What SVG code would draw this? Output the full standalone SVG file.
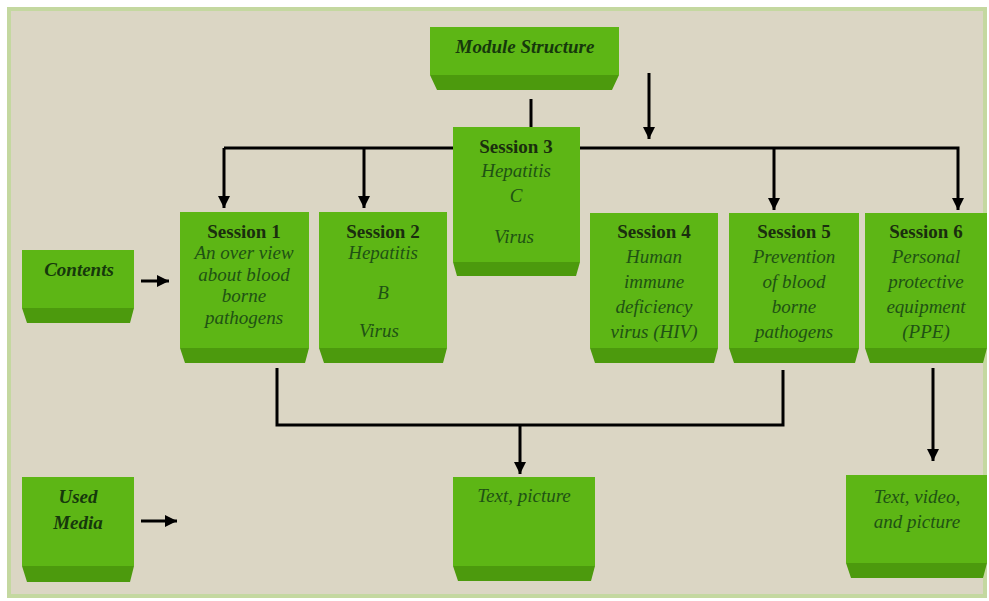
<svg xmlns="http://www.w3.org/2000/svg" width="989" height="601" viewBox="0 0 989 601">
<style>
.face{fill:#5DB615}
.bev{fill:#4C9A0D}
.t{font-family:"Liberation Serif","Times New Roman",serif;font-size:19px;text-anchor:middle}
.b{font-weight:bold;fill:#1A2E0E}
.i{font-style:italic;fill:#1F5214}
.bi{font-weight:bold;font-style:italic;fill:#16380C}
.ln{stroke:#000;stroke-width:3;fill:none}
</style>
<defs>
<marker id="ah" viewBox="0 0 10 10" refX="10" refY="5" markerWidth="4" markerHeight="4" orient="auto" markerUnits="strokeWidth">
<path d="M0,0 L10,5 L0,10 Z" fill="#000"/>
</marker>
</defs>
<rect x="0" y="0" width="989" height="601" fill="#FFFFFF"/>
<rect x="9" y="9" width="976" height="587" fill="#DBD6C4" stroke="#C4D8A0" stroke-width="4"/>

<g id="connectors">
<line class="ln" x1="531" y1="99" x2="531" y2="128"/>
<line class="ln" x1="649" y1="73" x2="649" y2="139" marker-end="url(#ah)"/>
<polyline class="ln" points="224,148 958,148 958,210" marker-end="url(#ah)"/>
<polyline class="ln" points="224,148 224,208" marker-end="url(#ah)"/>
<line class="ln" x1="364" y1="148" x2="364" y2="208" marker-end="url(#ah)"/>
<line class="ln" x1="774" y1="148" x2="774" y2="210" marker-end="url(#ah)"/>
<polyline class="ln" points="277,368 277,425 783,425 783,370"/>
<line class="ln" x1="520" y1="425" x2="520" y2="474" marker-end="url(#ah)"/>
<line class="ln" x1="933" y1="368" x2="933" y2="461" marker-end="url(#ah)"/>
<line class="ln" x1="141" y1="281" x2="169" y2="281" marker-end="url(#ah)"/>
<line class="ln" x1="141" y1="521" x2="177" y2="521" marker-end="url(#ah)"/>
</g>

<g id="module">
<rect class="face" x="430" y="27" width="189" height="48"/>
<polygon class="bev" points="430,75 619,75 612,90 437,90"/>
<text class="t bi" x="525" y="53">Module Structure</text>
</g>

<g id="session3">
<rect class="face" x="453" y="127" width="127" height="135"/>
<polygon class="bev" points="453,262 580,262 576,276 457,276"/>
<text class="t b" x="516" y="153">Session 3</text>
<text class="t i" x="516" y="177">Hepatitis</text>
<text class="t i" x="516" y="202">C</text>
<text class="t i" x="514" y="243">Virus</text>
</g>

<g id="session1">
<rect class="face" x="180" y="212" width="129" height="136"/>
<polygon class="bev" points="180,348 309,348 305,363 185,363"/>
<text class="t b" x="244" y="238">Session 1</text>
<text class="t i" x="244" y="259">An over view</text>
<text class="t i" x="244" y="281">about blood</text>
<text class="t i" x="244" y="302">borne</text>
<text class="t i" x="244" y="324">pathogens</text>
</g>

<g id="session2">
<rect class="face" x="319" y="212" width="128" height="136"/>
<polygon class="bev" points="319,348 447,348 443,363 324,363"/>
<text class="t b" x="383" y="238">Session 2</text>
<text class="t i" x="383" y="259">Hepatitis</text>
<text class="t i" x="383" y="299">B</text>
<text class="t i" x="379" y="337">Virus</text>
</g>

<g id="session4">
<rect class="face" x="590" y="213" width="128" height="135"/>
<polygon class="bev" points="590,348 718,348 714,363 595,363"/>
<text class="t b" x="654" y="238">Session 4</text>
<text class="t i" x="654" y="263">Human</text>
<text class="t i" x="654" y="288">immune</text>
<text class="t i" x="654" y="313">deficiency</text>
<text class="t i" x="654" y="338">virus (HIV)</text>
</g>

<g id="session5">
<rect class="face" x="729" y="213" width="130" height="135"/>
<polygon class="bev" points="729,348 859,348 855,363 734,363"/>
<text class="t b" x="794" y="238">Session 5</text>
<text class="t i" x="794" y="263">Prevention</text>
<text class="t i" x="794" y="288">of blood</text>
<text class="t i" x="794" y="313">borne</text>
<text class="t i" x="794" y="338">pathogens</text>
</g>

<g id="session6">
<rect class="face" x="865" y="213" width="122" height="135"/>
<polygon class="bev" points="865,348 987,348 983,363 870,363"/>
<text class="t b" x="926" y="238">Session 6</text>
<text class="t i" x="926" y="263">Personal</text>
<text class="t i" x="926" y="288">protective</text>
<text class="t i" x="926" y="313">equipment</text>
<text class="t i" x="926" y="338">(PPE)</text>
</g>

<g id="contents">
<rect class="face" x="22" y="250" width="112" height="58"/>
<polygon class="bev" points="22,308 134,308 130,323 27,323"/>
<text class="t bi" x="79" y="276">Contents</text>
</g>

<g id="usedmedia">
<rect class="face" x="22" y="477" width="112" height="89"/>
<polygon class="bev" points="22,566 134,566 130,582 27,582"/>
<text class="t bi" x="78" y="503">Used</text>
<text class="t bi" x="78" y="529">Media</text>
</g>

<g id="textpicture">
<rect class="face" x="453" y="477" width="142" height="89"/>
<polygon class="bev" points="453,566 595,566 591,581 458,581"/>
<text class="t i" x="524" y="502">Text, picture</text>
</g>

<g id="textvideo">
<rect class="face" x="846" y="475" width="141" height="88"/>
<polygon class="bev" points="846,563 987,563 983,578 851,578"/>
<text class="t i" x="917" y="503">Text, video,</text>
<text class="t i" x="917" y="528">and picture</text>
</g>
</svg>
